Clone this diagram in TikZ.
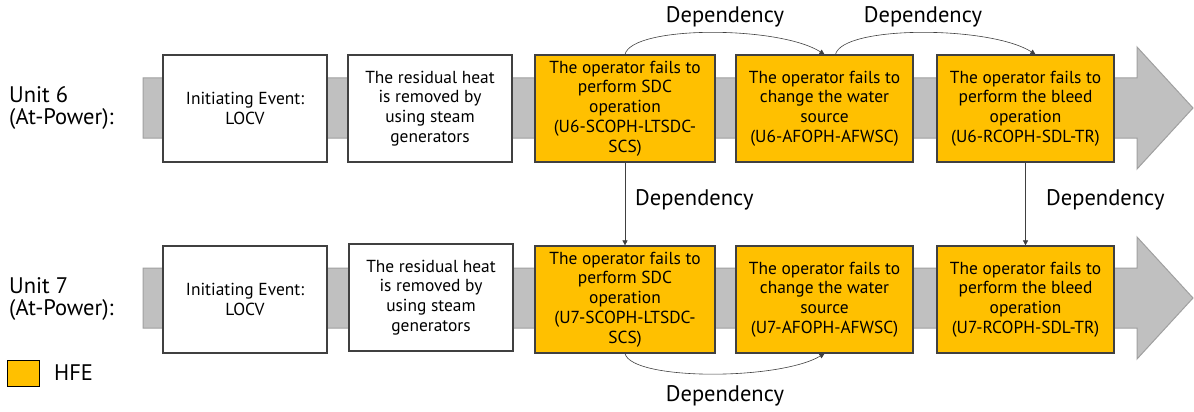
\documentclass[tikz,border=0pt]{standalone}
\usepackage{fontspec}
\setmainfont{PT Sans}
\usetikzlibrary{arrows.meta}
\definecolor{hfe}{HTML}{FFC000}
\definecolor{barfill}{HTML}{C0C0C0}
\definecolor{barline}{HTML}{A0A0A0}
\definecolor{boxline}{HTML}{404040}
\begin{document}
\begin{tikzpicture}[x=1pt,y=-1pt,
  evbox/.style={draw=boxline,line width=1.2pt,fill=white,minimum height=107pt,inner sep=0pt,align=center,font=\fontsize{17.4}{19.8}\selectfont},
  hfebox/.style={evbox,fill=hfe},
  lbl/.style={font=\fontsize{22.5}{21.5}\selectfont,inner sep=0pt},
  dep/.style={draw=black!75,line width=0.6pt,-{Triangle[length=5pt,width=5pt]}},
  bar/.style={fill=barfill,draw=barline,line width=1pt}]
\useasboundingbox (0,0) rectangle (1194,412);
% gray arrows
\draw[bar] (143,78) -- (1137,78) -- (1137,47) -- (1193,108) -- (1137,169) -- (1137,138) -- (143,138) -- cycle;
\draw[bar] (143,268) -- (1137,268) -- (1137,237) -- (1193,298) -- (1137,359) -- (1137,328) -- (143,328) -- cycle;
% unit 6 row
\node[evbox,minimum width=164pt] (u6a) at (245,108.5) {Initiating Event:\\LOCV};
\node[evbox,minimum width=164pt] (u6b) at (430,108.5) {The residual heat\\is removed by\\using steam\\generators};
\node[hfebox,minimum width=180pt] (u6c) at (625,108.5) {The operator fails to\\perform SDC\\operation\\(U6-SCOPH-LTSDC-\\SCS)};
\node[hfebox,minimum width=177pt] (u6d) at (824.5,108.5) {The operator fails to\\change the water\\source\\(U6-AFOPH-AFWSC)};
\node[hfebox,minimum width=177pt] (u6e) at (1025.5,108.5) {The operator fails to\\perform the bleed\\operation\\(U6-RCOPH-SDL-TR)};
% unit 7 row
\node[evbox,minimum width=164pt] (u7a) at (245,299.5) {Initiating Event:\\LOCV};
\node[evbox,minimum width=164pt] (u7b) at (431,297.5) {The residual heat\\is removed by\\using steam\\generators};
\node[hfebox,minimum width=180pt] (u7c) at (625,299.5) {The operator fails to\\perform SDC\\operation\\(U7-SCOPH-LTSDC-\\SCS)};
\node[hfebox,minimum width=177pt] (u7d) at (824.5,299.5) {The operator fails to\\change the water\\source\\(U7-AFOPH-AFWSC)};
\node[hfebox,minimum width=177pt] (u7e) at (1025.5,299.5) {The operator fails to\\perform the bleed\\operation\\(U7-RCOPH-SDL-TR)};
% unit labels
\node[lbl,anchor=west,align=left] (l6) at (9,108) {Unit 6\\(At-Power):};
\node[lbl,anchor=west,align=left] (l7) at (9,299) {Unit 7\\(At-Power):};
% legend
\node[draw=black,line width=1pt,fill=hfe,minimum width=32pt,minimum height=26pt,inner sep=0pt] (leg) at (23,373) {};
\node[lbl,anchor=west] (legt) at (54,373) {HFE};
% dependencies
\draw[dep] (u6c.north) .. controls +(7,-29) and +(-46,-29) .. (u6d.north);
\draw[dep] ([xshift=11pt]u6d.north) .. controls +(7,-29) and +(-46,-29) .. ([xshift=10pt]u6e.north);
\draw[dep] (u6c.south) -- (u7c.north);
\draw[dep] (u6e.south) -- (u7e.north);
\draw[dep] (u7c.south) .. controls +(7,27) and +(-46,27) .. (u7d.south);
\node[lbl] (d1) at (725,17) {Dependency};
\node[lbl] (d2) at (923,17) {Dependency};
\node[lbl,anchor=west] (d3) at (635,200) {Dependency};
\node[lbl,anchor=west] (d4) at (1046,200) {Dependency};
\node[lbl] (d5) at (725,396) {Dependency};
\end{tikzpicture}
\end{document}
